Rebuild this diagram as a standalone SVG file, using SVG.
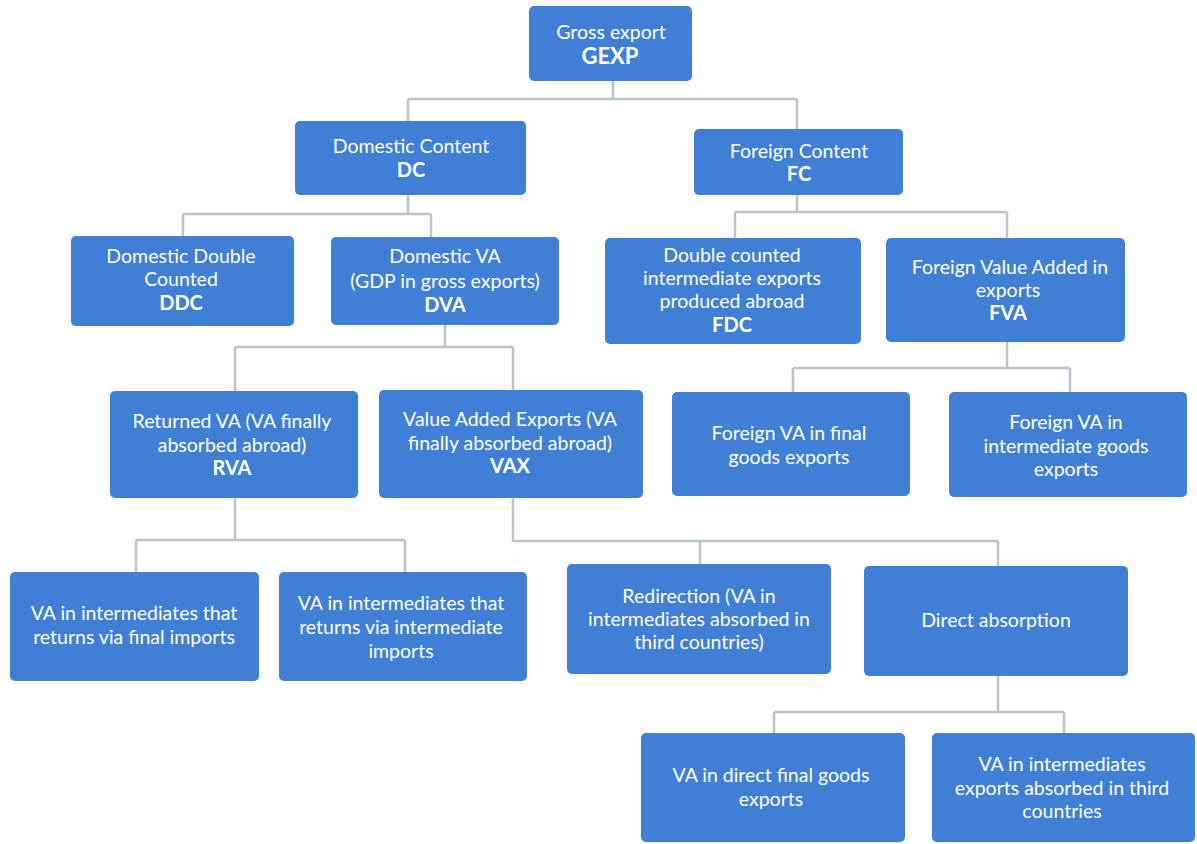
<svg xmlns="http://www.w3.org/2000/svg" width="1197" height="844" viewBox="0 0 1197 844">
<style>
.n{fill:#3f80d6;}
.t{font-family:Lato,"Open Sans","Liberation Sans",sans-serif;font-size:19.5px;fill:#ffffff;text-anchor:middle;}
.b{font-weight:bold;font-size:20px;}
.c{fill:none;stroke:#b9c3cd;stroke-width:2.5;}
</style>
<rect width="1197" height="844" fill="#ffffff"/>
<g id="connectors">
<path class="c" d="M613 80V99M408 99H797M408 99V121M797 99V129"/>
<path class="c" d="M408 195V214M183 214H431M183 214V236M431 214V237"/>
<path class="c" d="M797 195V212M735 212H1007M735 212V238M1007 212V238"/>
<path class="c" d="M445 325V347M235 347H513M235 347V391M513 347V390"/>
<path class="c" d="M1007 342V368M793 368H1070M793 368V392M1070 368V392"/>
<path class="c" d="M235 498V540M136 540H405M136 540V572M405 540V572"/>
<path class="c" d="M513 498V541H998M700 541V564M998 541V566"/>
<path class="c" d="M998 676V712M774 712H1064M774 712V733M1064 712V733"/>
</g>
<g id="gexp"><rect class="n" x="529" y="6" width="163" height="75" rx="5"/>
<text class="t" x="611" y="39">Gross export</text><text class="t b" x="610" y="64" style="font-size:22px">GEXP</text></g>
<g id="dc"><rect class="n" x="295" y="121" width="231" height="74" rx="5"/>
<text class="t" x="411" y="153">Domestic Content</text><text class="t b" x="411" y="177">DC</text></g>
<g id="fc"><rect class="n" x="694" y="129" width="209" height="66" rx="5"/>
<text class="t" x="799" y="158">Foreign Content</text><text class="t b" x="799" y="181">FC</text></g>
<g id="ddc"><rect class="n" x="71" y="236" width="223" height="90" rx="5"/>
<text class="t" x="181" y="263">Domestic Double</text><text class="t" x="181" y="286">Counted</text><text class="t b" x="181" y="310">DDC</text></g>
<g id="dva"><rect class="n" x="331" y="237" width="228" height="88" rx="5"/>
<text class="t" x="445" y="263">Domestic VA</text><text class="t" x="445" y="288">(GDP in gross exports)</text><text class="t b" x="445" y="312">DVA</text></g>
<g id="fdc"><rect class="n" x="605" y="238" width="256" height="106" rx="5"/>
<text class="t" x="732" y="262">Double counted</text><text class="t" x="732" y="285">intermediate exports</text><text class="t" x="732" y="308">produced abroad</text><text class="t b" x="732" y="332">FDC</text></g>
<g id="fva"><rect class="n" x="886" y="238" width="239" height="104" rx="5"/>
<text class="t" x="1010" y="274">Foreign Value Added in</text><text class="t" x="1008" y="297">exports</text><text class="t b" x="1008" y="320">FVA</text></g>
<g id="rva"><rect class="n" x="110" y="391" width="248" height="107" rx="5"/>
<text class="t" x="232" y="428">Returned VA (VA finally</text><text class="t" x="232" y="452">absorbed abroad)</text><text class="t b" x="232" y="475">RVA</text></g>
<g id="vax"><rect class="n" x="379" y="390" width="264" height="108" rx="5"/>
<text class="t" x="510" y="426">Value Added Exports (VA</text><text class="t" x="510" y="450">finally absorbed abroad)</text><text class="t b" x="510" y="473">VAX</text></g>
<g id="fva-final"><rect class="n" x="672" y="392" width="238" height="104" rx="5"/>
<text class="t" x="789" y="440">Foreign VA in final</text><text class="t" x="789" y="464">goods exports</text></g>
<g id="fva-int"><rect class="n" x="949" y="392" width="238" height="105" rx="5"/>
<text class="t" x="1066" y="429">Foreign VA in</text><text class="t" x="1066" y="453">intermediate goods</text><text class="t" x="1066" y="476">exports</text></g>
<g id="rva-final"><rect class="n" x="10" y="572" width="249" height="109" rx="5"/>
<text class="t" x="134" y="620">VA in intermediates that</text><text class="t" x="134" y="644">returns via final imports</text></g>
<g id="rva-int"><rect class="n" x="279" y="572" width="248" height="109" rx="5"/>
<text class="t" x="401" y="610">VA in intermediates that</text><text class="t" x="401" y="634">returns via intermediate</text><text class="t" x="401" y="658">imports</text></g>
<g id="redirection"><rect class="n" x="567" y="564" width="264" height="110" rx="5"/>
<text class="t" x="699" y="603">Redirection (VA in</text><text class="t" x="699" y="626">intermediates absorbed in</text><text class="t" x="699" y="649">third countries)</text></g>
<g id="direct"><rect class="n" x="864" y="566" width="264" height="110" rx="5"/>
<text class="t" x="996" y="627">Direct absorption</text></g>
<g id="direct-final"><rect class="n" x="641" y="733" width="264" height="109" rx="5"/>
<text class="t" x="771" y="782">VA in direct final goods</text><text class="t" x="771" y="806">exports</text></g>
<g id="direct-int"><rect class="n" x="932" y="733" width="263" height="109" rx="5"/>
<text class="t" x="1062" y="771">VA in intermediates</text><text class="t" x="1062" y="795">exports absorbed in third</text><text class="t" x="1062" y="818">countries</text></g>
</svg>
